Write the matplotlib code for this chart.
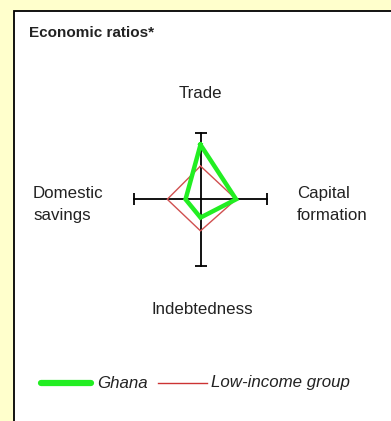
import matplotlib.pyplot as plt
from matplotlib.patches import Rectangle
import numpy as np

# axes order: Trade (up), Capital formation (right), Indebtedness (down), Domestic savings (left)
indicators = ['Trade', 'Capital\nformation', 'Indebtedness', 'Domestic\nsavings']
ghana = [1.64, 1.07, 0.55, 0.45]
low_income = [1.0, 1.07, 0.95, 1.0]
series_names = ['Ghana', 'Low-income group']
axis_max = 2.0

plt.rcParams['font.family'] = ['Liberation Sans', 'DejaVu Sans']

W, H = 391, 421
fig = plt.figure(figsize=(W / 100, H / 100), dpi=100, facecolor='#FFFFCC')

# background panel in pixel coords
bg = fig.add_axes([0, 0, 1, 1])
bg.set_xlim(0, W)
bg.set_ylim(H, 0)
bg.axis('off')
bg.add_patch(Rectangle((13.5, 11), 400, 430, facecolor='white', edgecolor='black', lw=1.3))
bg.text(29, 33, 'Economic ratios*', fontsize=11, fontweight='bold', va='center', ha='left', color='#222222')

# labels around the diamond
txt = dict(fontsize=12.2, color='#222222', linespacing=1.65)
bg.text(200, 93, indicators[0], ha='center', va='center', **txt)
bg.text(297, 204.5, indicators[1], ha='left', va='center', **txt)
bg.text(202, 309, indicators[2], ha='center', va='center', **txt)
bg.text(33, 204.5, indicators[3], ha='left', va='center', **txt)

# legend drawn by hand
bg.plot([41, 91], [383, 383], color='#22EE22', lw=4.5, solid_capstyle='round')
bg.text(97, 383, series_names[0], fontsize=12.2, style='italic', va='center', ha='left', color='#222222')
bg.plot([158, 207], [383, 383], color='#CC3333', lw=1)
bg.text(211, 383, series_names[1], fontsize=12.2, style='italic', va='center', ha='left', color='#222222')

# radar axes: centre at (200.5, 199.3), half length 66.5 px
cx, cy, half = 200.5, 199.3, 66.5
ax = fig.add_axes([(cx - half) / W, (H - cy - half) / H, 2 * half / W, 2 * half / H])
ax.set_xlim(-axis_max, axis_max)
ax.set_ylim(-axis_max, axis_max)
ax.axis('off')
ax.patch.set_alpha(0)

ax.plot([-axis_max, axis_max], [0, 0], color='black', lw=1.3, clip_on=False)
ax.plot([0, 0], [-axis_max, axis_max], color='black', lw=1.3, clip_on=False)
ax.plot([-axis_max, axis_max], [0, 0], ls='none', marker='|', ms=8, mew=1.3, color='black', clip_on=False)
ax.plot([0, 0], [-axis_max, axis_max], ls='none', marker='_', ms=8, mew=1.3, color='black', clip_on=False)

angles = np.array([np.pi / 2, 0, -np.pi / 2, np.pi])


def to_xy(vals):
    v = np.array(vals + vals[:1])
    a = np.append(angles, angles[0])
    return v * np.cos(a), v * np.sin(a)


x, y = to_xy(low_income)
ax.plot(x, y, color='#D05050', lw=1, clip_on=False, zorder=3)
x, y = to_xy(ghana)
ax.plot(x, y, color='#22EE22', lw=3.2, clip_on=False, zorder=4, solid_joinstyle='miter')

fig.savefig('out.png', dpi=100, facecolor=fig.get_facecolor())
